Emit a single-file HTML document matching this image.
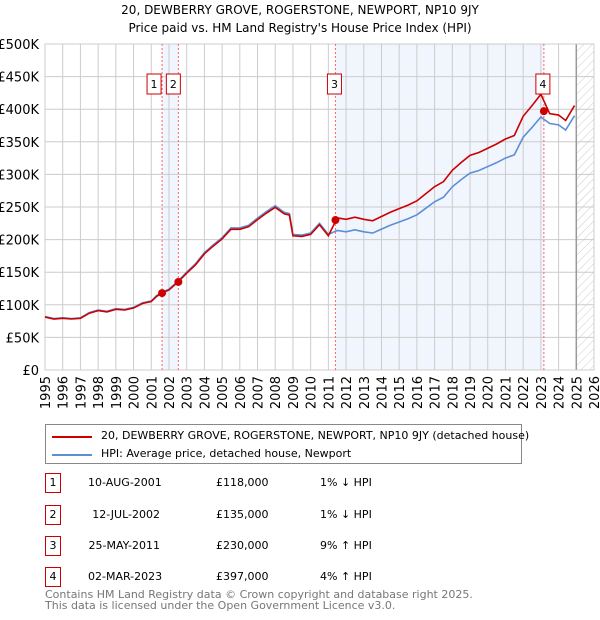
<!DOCTYPE html>
<html><head><meta charset="utf-8">
<style>
body{margin:0;width:600px;height:620px;background:#fff;font-family:"DejaVu Sans","Liberation Sans",sans-serif;color:#000;position:relative;overflow:hidden}
.t{position:absolute;white-space:nowrap}
.box{position:absolute;border:1px solid #c00;width:14px;height:18px;text-align:center;font-size:11px;line-height:18px}
</style></head><body>
<div class="t" style="left:0;width:600px;text-align:center;top:3px;font-size:12px">20, DEWBERRY GROVE, ROGERSTONE, NEWPORT, NP10 9JY</div>
<div class="t" style="left:0;width:600px;text-align:center;top:21px;font-size:12px">Price paid vs. HM Land Registry's House Price Index (HPI)</div>
<svg id="chart" width="600" height="420" style="position:absolute;left:0;top:0" font-family="DejaVu Sans, Liberation Sans, sans-serif">
<defs><pattern id="hatch" width="6" height="6" patternUnits="userSpaceOnUse" patternTransform="rotate(45)"><line x1="0" y1="0" x2="0" y2="6" stroke="#ccc" stroke-width="1"/></pattern></defs>
</svg>
<div style="position:absolute;left:45px;top:424px;width:475px;height:38px;border:1px solid #888">
 <div style="position:absolute;left:6px;top:11px;width:40px;height:2px;background:#c00"></div>
 <div class="t" style="left:55px;top:4px;font-size:11px">20, DEWBERRY GROVE, ROGERSTONE, NEWPORT, NP10 9JY (detached house)</div>
 <div style="position:absolute;left:6px;top:29px;width:40px;height:2px;background:#5b8fd6"></div>
 <div class="t" style="left:55px;top:22px;font-size:11px">HPI: Average price, detached house, Newport</div>
</div>
<div id="table"></div>
<div class="t" style="left:45px;top:589px;font-size:11px;color:#777;line-height:11px">Contains HM Land Registry data © Crown copyright and database right 2025.<br>This data is licensed under the Open Government Licence v3.0.</div>
<script>
const hpiYears=[1995,1995.5,1996,1996.5,1997,1997.5,1998,1998.5,1999,1999.5,2000,2000.5,2001,2001.3,2001.6,2002,2002.5,2003,2003.5,2004,2004.5,2005,2005.5,2006,2006.5,2007,2007.5,2008,2008.5,2008.8,2009,2009.5,2010,2010.5,2011,2011.5,2012,2012.5,2013,2013.5,2014,2014.5,2015,2015.5,2016,2016.5,2017,2017.5,2018,2018.5,2019,2019.5,2020,2020.5,2021,2021.5,2022,2022.5,2023,2023.5,2024,2024.4,2024.9];
const hpiValues=[82,79,80,79,80,88,92,90,94,93,96,103,106,114,119,124,136,150,163,180,192,203,218,218,222,233,243,252,242,240,208,207,210,225,208,214,212,215,212,210,216,222,227,232,238,248,258,265,281,292,302,306,312,318,325,330,357,372,388,378,376,368,390];
const saleLabels=["1","2","3","4"];
const saleDates=["10-AUG-2001","12-JUL-2002","25-MAY-2011","02-MAR-2023"];
const saleYears=[2001.61,2002.53,2011.4,2023.17];
const salePrices=[118000,135000,230000,397000];
const saleRatios=[0.99,0.99,1.09,1.04];
const saleDiffs=["1% ↓ HPI","1% ↓ HPI","9% ↑ HPI","4% ↑ HPI"];
const yTicks=[0,50,100,150,200,250,300,350,400,450,500];
const yTickLabels=["£0","£50K","£100K","£150K","£200K","£250K","£300K","£350K","£400K","£450K","£500K"];
const xTicks=[1995,1996,1997,1998,1999,2000,2001,2002,2003,2004,2005,2006,2007,2008,2009,2010,2011,2012,2013,2014,2015,2016,2017,2018,2019,2020,2021,2022,2023,2024,2025,2026];

const X0=45,X1=594,Y0=370,Y1=44;
const xs=y=>X0+(y-1995)/(2026-1995)*(X1-X0);
const ys=v=>Y0-v/500*(Y0-Y1);
const svg=document.getElementById('chart');
const NS='http://www.w3.org/2000/svg';
function mk(tag,attrs,parent){const e=document.createElementNS(NS,tag);for(const k in attrs)e.setAttribute(k,attrs[k]);(parent||svg).appendChild(e);return e;}
let e;
e=mk('rect',{x:xs(saleYears[0]),y:Y1,width:xs(saleYears[1])-xs(saleYears[0]),height:Y0-Y1,fill:'#eef3fc',opacity:0.8});


e=mk('rect',{x:xs(saleYears[2]),y:Y1,width:xs(saleYears[3])-xs(saleYears[2]),height:Y0-Y1,fill:'#eef3fc',opacity:0.8});


e=mk('rect',{x:xs(2025),y:Y1,width:X1-xs(2025),height:Y0-Y1,fill:'url(#hatch)'});


yTicks.forEach((t,i)=>{
 mk('line',{x1:X0,x2:X1,y1:ys(t),y2:ys(t),stroke:'#ccc','stroke-width':1});
 e=mk('text',{x:X0-6,y:ys(t)+5,'text-anchor':'end','font-size':13,fill:'#000'});
 e.textContent=yTickLabels[i];
 
 
});
xTicks.forEach(t=>{
 mk('line',{x1:xs(t),x2:xs(t),y1:Y1,y2:Y0,stroke:'#ccc','stroke-width':1});
 e=mk('text',{x:0,y:0,'text-anchor':'end','font-size':13,fill:'#000',transform:`translate(${xs(t)+5},${Y0+6}) rotate(-90)`});
 e.textContent=t;
 
 
});
mk('line',{x1:xs(2025),x2:xs(2025),y1:Y1,y2:Y0,stroke:'#999','stroke-width':1.5});
mk('rect',{x:X0,y:Y1,width:X1-X0,height:Y0-Y1,fill:'none',stroke:'#ccc'});
saleYears.forEach(y=>mk('line',{x1:xs(y),x2:xs(y),y1:Y1,y2:Y0,stroke:'#f66','stroke-width':1,'stroke-dasharray':'2,2'}));
e=mk('polyline',{points:hpiYears.map((y,i)=>xs(y)+','+ys(hpiValues[i])).join(' '),fill:'none',stroke:'#5b8fd6','stroke-width':1.6});


const pricePts=[];
hpiYears.forEach((y,i)=>{let r=saleRatios[0];saleYears.forEach((s,j)=>{if(y>=s)r=saleRatios[j];});pricePts.push(xs(y)+','+ys(hpiValues[i]*r));});
e=mk('polyline',{points:pricePts.join(' '),fill:'none',stroke:'#c00','stroke-width':1.6});


saleYears.forEach((y,i)=>{
 e=mk('circle',{cx:xs(y),cy:ys(salePrices[i]/1000),r:4,fill:'#c00'});
 
 
 const bx=i===0?xs(y)-15:(i===1?xs(y)-12:xs(y)-8);
 mk('rect',{x:bx,y:74,width:14,height:20,fill:'#fff',stroke:'#c00'});
 e=mk('text',{x:bx+7,y:88,'text-anchor':'middle','font-size':11});
 e.textContent=saleLabels[i];
 
 
});
const tb=document.getElementById('table');
const rowY=[473,505,536,567];
saleLabels.forEach((l,i)=>{
 const r=document.createElement('div');
 
 
 r.innerHTML=`<div class="box" style="left:45px;top:${rowY[i]}px">${l}</div>
 <div class="t" style="left:88px;width:72px;text-align:right;top:${rowY[i]+3}px;font-size:11px">${saleDates[i]}</div>
 <div class="t" style="left:216px;top:${rowY[i]+3}px;font-size:11px">£${salePrices[i].toLocaleString('en-GB')}</div>
 <div class="t" style="left:320px;top:${rowY[i]+3}px;font-size:11px">${saleDiffs[i]}</div>`;
 tb.appendChild(r);
});
</script>
</body></html>
